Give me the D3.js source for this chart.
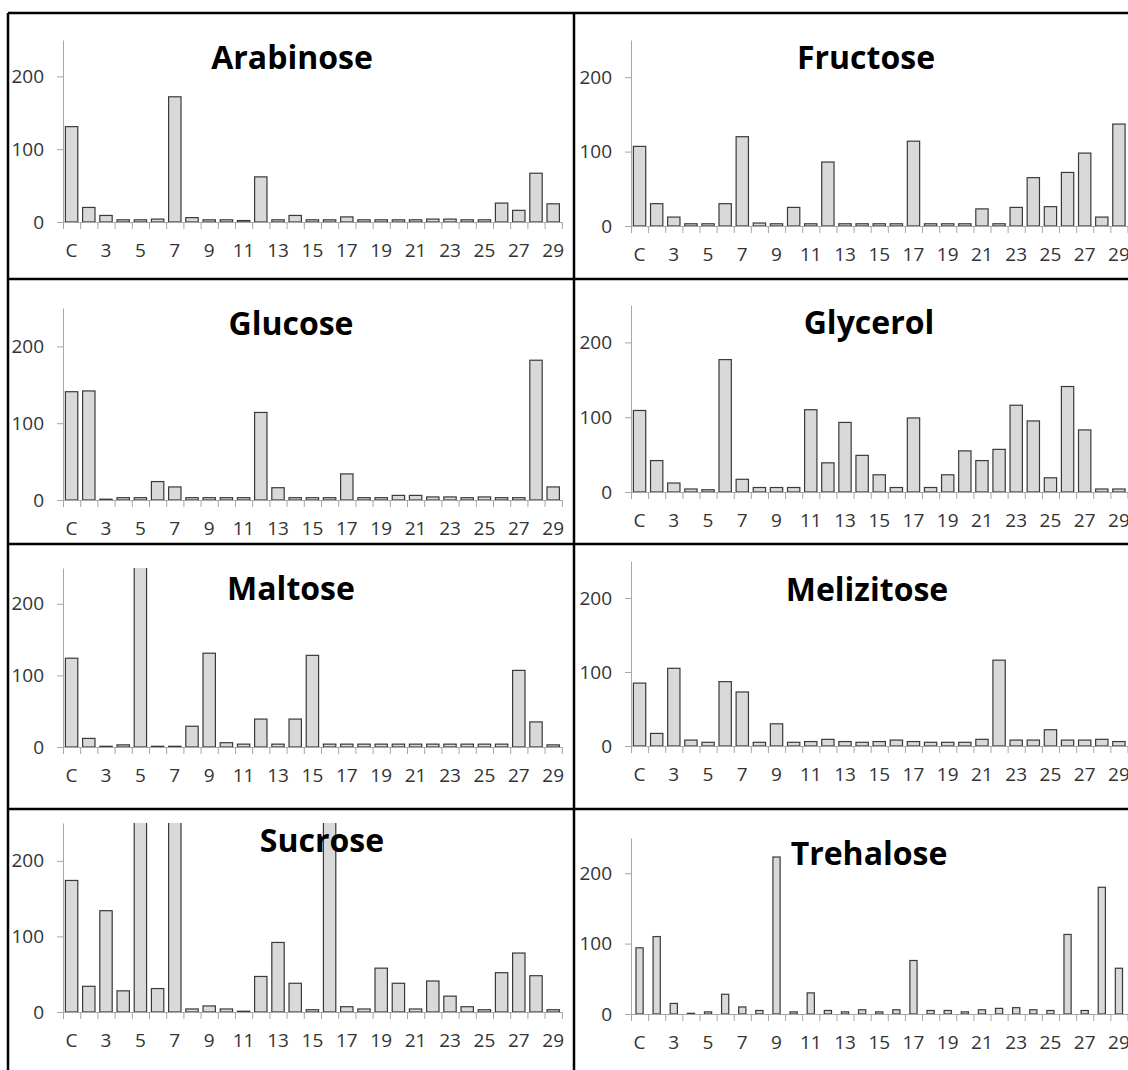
<!DOCTYPE html>
<html>
<head>
<meta charset="utf-8">
<script src="https://cdn.jsdelivr.net/npm/d3@7"></script>
<style>
  body { margin: 0; background: #fff; }
  svg { display: block; }
</style>
</head>
<body>
<script>
// categories on the x axis (C = control, then strains 2..29)
const categories = ["C", "2", "3", "4", "5", "6", "7", "8", "9", "10", "11", "12", "13", "14", "15",
                    "16", "17", "18", "19", "20", "21", "22", "23", "24", "25", "26", "27", "28", "29"]
const shownLabels = ["C", "3", "5", "7", "9", "11", "13", "15", "17", "19", "21", "23", "25", "27", "29"]
const yTicks = [0, 100, 200]
const yMax = 250

const titles = ["Arabinose", "Fructose", "Glucose", "Glycerol", "Maltose", "Melizitose", "Sucrose", "Trehalose"]

// values (bars going past 250 are cut at the axis top)
const arabinose  = [131, 20, 9, 3, 3, 4, 172, 6, 3, 3, 2, 62, 3, 9, 3, 3, 7, 3, 3, 3, 3, 4, 4, 3, 3, 26, 16, 67, 25]
const fructose   = [107, 30, 12, 3, 3, 30, 120, 4, 3, 25, 3, 86, 3, 3, 3, 3, 114, 3, 3, 3, 23, 3, 25, 65, 26, 72, 98, 12, 137]
const glucose    = [141, 142, 1, 3, 3, 24, 17, 3, 3, 3, 3, 114, 16, 3, 3, 3, 34, 3, 3, 6, 6, 4, 4, 3, 4, 3, 3, 182, 17]
const glycerol   = [109, 42, 12, 4, 3, 177, 17, 6, 6, 6, 110, 39, 93, 49, 23, 6, 99, 6, 23, 55, 42, 57, 116, 95, 19, 141, 83, 4, 4]
const maltose    = [124, 12, 1, 3, 300, 1, 1, 29, 131, 6, 4, 39, 4, 39, 128, 4, 4, 4, 4, 4, 4, 4, 4, 4, 4, 4, 107, 35, 3]
const melizitose = [85, 17, 105, 8, 5, 87, 73, 5, 30, 5, 6, 9, 6, 5, 6, 8, 6, 5, 5, 5, 9, 116, 8, 8, 22, 8, 8, 9, 6]
const sucrose    = [174, 34, 134, 28, 300, 31, 300, 4, 8, 4, 1, 47, 92, 38, 3, 300, 7, 4, 58, 38, 4, 41, 21, 7, 3, 52, 78, 48, 3]
const trehalose  = [94, 110, 15, 1, 3, 28, 10, 5, 223, 3, 30, 5, 3, 6, 3, 6, 76, 5, 5, 3, 6, 8, 9, 6, 5, 113, 5, 180, 65]

const series = [arabinose, fructose, glucose, glycerol, maltose, melizitose, sucrose, trehalose]

// where each small chart sits on the page
const layout = [
    { zero: 222, top: 40, titleX: 292, titleY: 69, bar: 0.72 },
    { zero: 226, top: 40, titleX: 866, titleY: 69, bar: 0.72 },
    { zero: 500, top: 308, titleX: 291, titleY: 335, bar: 0.72 },
    { zero: 492, top: 305, titleX: 869, titleY: 334, bar: 0.72 },
    { zero: 747, top: 568, titleX: 291, titleY: 600, bar: 0.72 },
    { zero: 746, top: 561, titleX: 867, titleY: 601, bar: 0.72 },
    { zero: 1012, top: 823, titleX: 322, titleY: 852, bar: 0.72 },
    { zero: 1014, top: 838, titleX: 869, titleY: 865, bar: 0.42 }
]
const colX = [{ x0: 63, step: 17.2 }, { x0: 631, step: 17.12 }]

const width = 1128
const height = 1070

const svg = d3.select("body").append("svg")
    .attr("width", width)
    .attr("height", height)
    .attr("xmlns", "http://www.w3.org/2000/svg")

const defs = svg.append("defs")

series.forEach((values, k) => {
    const L = layout[k]
    const col = colX[k % 2]
    const x1 = col.x0 + col.step * categories.length

    const x = d3.scaleBand().domain(categories).range([col.x0, x1]).padding(0)
    const xEdge = d3.scaleLinear().domain([0, categories.length]).range([col.x0, x1])
    const y = d3.scaleLinear().domain([0, yMax]).range([L.zero, L.top])

    const g = svg.append("g")

    defs.append("clipPath").attr("id", "clip" + k)
        .append("rect")
        .attr("x", col.x0 - 2).attr("y", L.top)
        .attr("width", x1 - col.x0 + 4).attr("height", L.zero - L.top + 2)

    // y axis
    g.append("g")
        .attr("transform", `translate(${col.x0},0)`)
        .call(d3.axisLeft(y).tickValues(yTicks).tickSize(6).tickSizeOuter(0).tickPadding(13))
        .call(a => a.select(".domain").attr("stroke", "#a6a6a6"))
        .call(a => a.selectAll(".tick line").attr("stroke", "#a6a6a6"))
        .call(a => a.selectAll("text")
            .attr("fill", "#333")
            .style("font", "19px 'Open Sans', sans-serif"))

    // bars
    const bw = x.bandwidth() * L.bar
    g.append("g")
        .attr("clip-path", `url(#clip${k})`)
        .selectAll("rect")
        .data(values)
        .join("rect")
        .attr("x", (d, i) => x(categories[i]) + (x.bandwidth() - bw) / 2)
        .attr("y", d => y(d))
        .attr("width", bw)
        .attr("height", d => y(0) - y(d))
        .attr("fill", "#d9d9d9")
        .attr("stroke", "#3a3a3a")
        .attr("stroke-width", 1.2)

    // x axis: ticks between categories
    g.append("g")
        .attr("transform", `translate(0,${L.zero})`)
        .call(d3.axisBottom(xEdge).tickValues(d3.range(categories.length + 1)).tickSize(7).tickSizeOuter(0).tickFormat(""))
        .call(a => a.select(".domain").attr("stroke", "#a6a6a6"))
        .call(a => a.selectAll(".tick line").attr("stroke", "#a6a6a6"))

    // x labels, every other category
    g.append("g")
        .attr("transform", `translate(0,${L.zero})`)
        .call(d3.axisBottom(x).tickValues(shownLabels).tickSize(0).tickPadding(22))
        .call(a => a.select(".domain").remove())
        .call(a => a.selectAll("text")
            .attr("fill", "#333")
            .style("font", "19px 'Open Sans', sans-serif"))

    // title
    g.append("text")
        .attr("x", L.titleX)
        .attr("y", L.titleY)
        .attr("text-anchor", "middle")
        .style("font", "bold 32px 'Open Sans', sans-serif")
        .attr("fill", "#000")
        .text(titles[k])
})

// panel frame
const frame = svg.append("g").attr("stroke", "#000").attr("stroke-width", 2.5)
frame.append("line").attr("x1", 8).attr("x2", width).attr("y1", 13).attr("y2", 13)
frame.append("line").attr("x1", 8).attr("x2", 8).attr("y1", 13).attr("y2", height)
frame.append("line").attr("x1", 574).attr("x2", 574).attr("y1", 13).attr("y2", height)
;[279, 544, 809].forEach(yy => {
    frame.append("line").attr("x1", 8).attr("x2", width).attr("y1", yy).attr("y2", yy)
})
</script>
</body>
</html>
